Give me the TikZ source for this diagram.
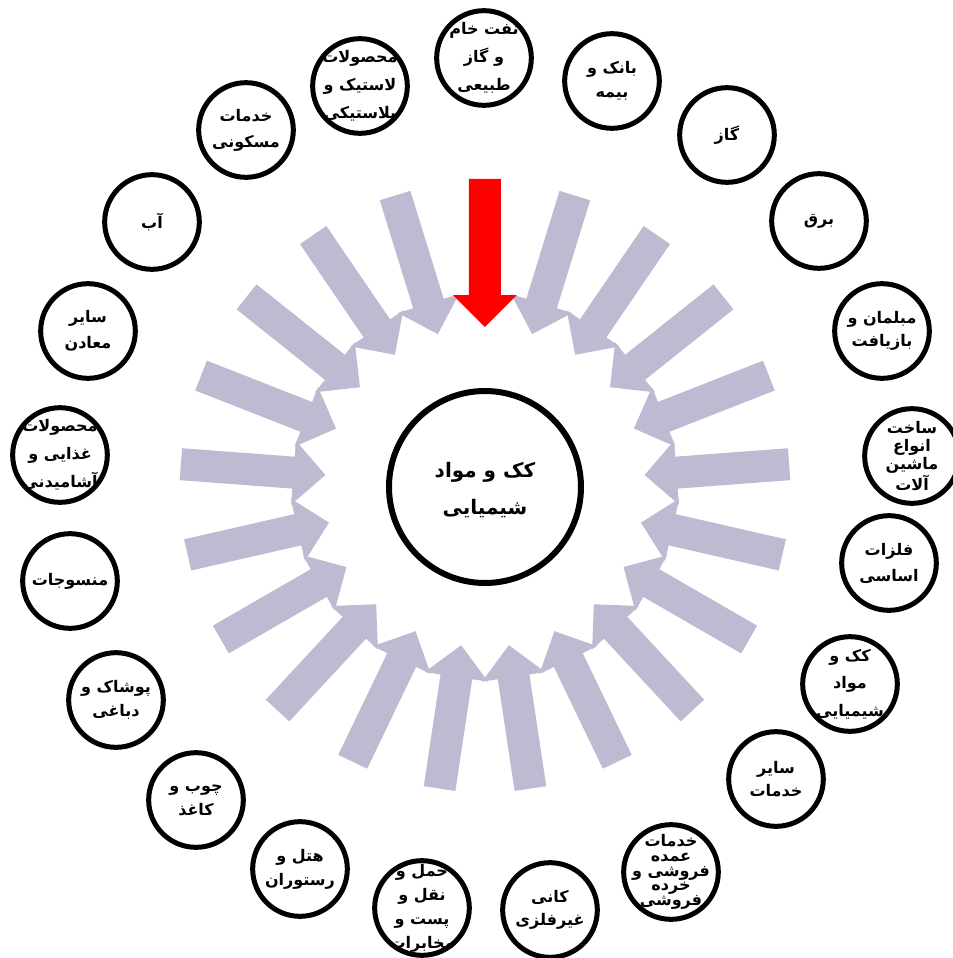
\documentclass[tikz,border=0pt]{standalone}
\usepackage{fontspec}
\newfontfamily\farsifont[Script=Arabic]{DejaVu Sans}
\TeXXeTstate=1
\definecolor{FlowLavender}{RGB}{191, 185, 209}
\definecolor{FocusRed}{RGB}{255, 0, 0}
\definecolor{RingBlack}{RGB}{0, 0, 0}
\newcommand{\fa}[1]{\beginR #1\endR}
\usetikzlibrary{positioning}

\begin{document}
\begin{tikzpicture}[x=0.75pt, y=0.75pt,
    inflow/.style={fill=FlowLavender},
    keyflow/.style={fill=FocusRed},
    sector/.style={circle, draw=RingBlack, line width=3.75pt, minimum size=71pt, inner sep=0pt},
    hub/.style={circle, draw=RingBlack, line width=4.5pt, minimum size=144pt, inner sep=0pt},
    sectortext/.style={text=RingBlack, align=center, inner sep=0pt, font=\farsifont\bfseries\fontsize{12}{19.5}\selectfont},
    hubtext/.style={text=RingBlack, align=center, inner sep=0pt, font=\farsifont\bfseries\fontsize{15}{28}\selectfont}
    ]
    \useasboundingbox (-485,-471) rectangle (468,487);

    %Arrows
    \fill[inflow, rotate=107.14] (305,16) -- (192,16) -- (192,32) -- (160,0) -- (192,-32) -- (192,-16) -- (305,-16) -- cycle;
    \fill[inflow, rotate=124.29] (305,16) -- (192,16) -- (192,32) -- (160,0) -- (192,-32) -- (192,-16) -- (305,-16) -- cycle;
    \fill[inflow, rotate=141.43] (305,16) -- (192,16) -- (192,32) -- (160,0) -- (192,-32) -- (192,-16) -- (305,-16) -- cycle;
    \fill[inflow, rotate=158.57] (305,16) -- (192,16) -- (192,32) -- (160,0) -- (192,-32) -- (192,-16) -- (305,-16) -- cycle;
    \fill[inflow, rotate=175.71] (305,16) -- (192,16) -- (192,32) -- (160,0) -- (192,-32) -- (192,-16) -- (305,-16) -- cycle;
    \fill[inflow, rotate=192.86] (305,16) -- (192,16) -- (192,32) -- (160,0) -- (192,-32) -- (192,-16) -- (305,-16) -- cycle;
    \fill[inflow, rotate=210.00] (305,16) -- (192,16) -- (192,32) -- (160,0) -- (192,-32) -- (192,-16) -- (305,-16) -- cycle;
    \fill[inflow, rotate=227.14] (305,16) -- (192,16) -- (192,32) -- (160,0) -- (192,-32) -- (192,-16) -- (305,-16) -- cycle;
    \fill[inflow, rotate=244.29] (305,16) -- (192,16) -- (192,32) -- (160,0) -- (192,-32) -- (192,-16) -- (305,-16) -- cycle;
    \fill[inflow, rotate=261.43] (305,16) -- (192,16) -- (192,32) -- (160,0) -- (192,-32) -- (192,-16) -- (305,-16) -- cycle;
    \fill[inflow, rotate=278.57] (305,16) -- (192,16) -- (192,32) -- (160,0) -- (192,-32) -- (192,-16) -- (305,-16) -- cycle;
    \fill[inflow, rotate=295.71] (305,16) -- (192,16) -- (192,32) -- (160,0) -- (192,-32) -- (192,-16) -- (305,-16) -- cycle;
    \fill[inflow, rotate=312.86] (305,16) -- (192,16) -- (192,32) -- (160,0) -- (192,-32) -- (192,-16) -- (305,-16) -- cycle;
    \fill[inflow, rotate=330.00] (305,16) -- (192,16) -- (192,32) -- (160,0) -- (192,-32) -- (192,-16) -- (305,-16) -- cycle;
    \fill[inflow, rotate=347.14] (305,16) -- (192,16) -- (192,32) -- (160,0) -- (192,-32) -- (192,-16) -- (305,-16) -- cycle;
    \fill[inflow, rotate=4.29] (305,16) -- (192,16) -- (192,32) -- (160,0) -- (192,-32) -- (192,-16) -- (305,-16) -- cycle;
    \fill[inflow, rotate=21.43] (305,16) -- (192,16) -- (192,32) -- (160,0) -- (192,-32) -- (192,-16) -- (305,-16) -- cycle;
    \fill[inflow, rotate=38.57] (305,16) -- (192,16) -- (192,32) -- (160,0) -- (192,-32) -- (192,-16) -- (305,-16) -- cycle;
    \fill[inflow, rotate=55.71] (305,16) -- (192,16) -- (192,32) -- (160,0) -- (192,-32) -- (192,-16) -- (305,-16) -- cycle;
    \fill[inflow, rotate=72.86] (305,16) -- (192,16) -- (192,32) -- (160,0) -- (192,-32) -- (192,-16) -- (305,-16) -- cycle;
    \fill[keyflow, rotate=90] (308,16) -- (192,16) -- (192,32) -- (160,0) -- (192,-32) -- (192,-16) -- (308,-16) -- cycle;

    %Hub
    \node[hub] (hub) at (0,0) {};
    \node[hubtext] (hub-t) at (0,-3) {\fa{کک و مواد}\\\fa{شیمیایی}};

    %Sectors
    \node[sector] (naft) at (-1,429) {};
    \node[sector] (bank) at (127,406) {};
    \node[sector] (gaz) at (242,352) {};
    \node[sector] (barq) at (334,266) {};
    \node[sector] (mobl) at (397,156) {};
    \node[sector] (sakht) at (427,31) {};
    \node[sector] (felezat) at (404,-76) {};
    \node[sector] (kok) at (365,-197) {};
    \node[sector] (khadamat) at (291,-292) {};
    \node[sector] (omde) at (186,-385) {};
    \node[sector] (kani) at (65,-423) {};
    \node[sector] (haml) at (-63,-421) {};
    \node[sector] (hotel) at (-185,-382) {};
    \node[sector] (choob) at (-289,-313) {};
    \node[sector] (pooshak) at (-369,-213) {};
    \node[sector] (nasaji) at (-415,-94) {};
    \node[sector] (ghaza) at (-425,32) {};
    \node[sector] (maaden) at (-397,156) {};
    \node[sector] (ab) at (-333,265) {};
    \node[sector] (maskan) at (-239,357) {};
    \node[sector] (lastik) at (-125,401) {};

    %Sector labels
    \node[sectortext, font=\farsifont\bfseries\fontsize{12}{21}\selectfont] (naft-t) at (naft) {\fa{نفت خام}\\\fa{و گاز}\\\fa{طبیعی}};
    \node[sectortext, font=\farsifont\bfseries\fontsize{12}{18}\selectfont] (bank-t) at (bank) {\fa{بانک و}\\\fa{بیمه}};
    \node[sectortext] (gaz-t) at (gaz) {\fa{گاز}};
    \node[sectortext] (barq-t) at (barq) {\fa{برق}};
    \node[sectortext, font=\farsifont\bfseries\fontsize{12}{17}\selectfont] (mobl-t) at (mobl) {\fa{مبلمان و}\\\fa{بازیافت}};
    \node[sectortext, font=\farsifont\bfseries\fontsize{12}{13.5}\selectfont] (sakht-t) at (sakht) {\fa{ساخت}\\\fa{انواع}\\\fa{ماشین}\\\fa{آلات}};
    \node[sectortext] (felezat-t) at (felezat) {\fa{فلزات}\\\fa{اساسی}};
    \node[sectortext, font=\farsifont\bfseries\fontsize{12}{20.5}\selectfont] (kok-t) at (kok) {\fa{کک و}\\\fa{مواد}\\\fa{شیمیایی}};
    \node[sectortext, font=\farsifont\bfseries\fontsize{12}{17}\selectfont] (khadamat-t) at (khadamat) {\fa{سایر}\\\fa{خدمات}};
    \node[sectortext, font=\farsifont\bfseries\fontsize{12}{11}\selectfont] (omde-t) at (omde) {\fa{خدمات}\\\fa{عمده}\\\fa{فروشی و}\\\fa{خرده}\\\fa{فروشی}};
    \node[sectortext, font=\farsifont\bfseries\fontsize{12}{17}\selectfont] (kani-t) at (kani) {\fa{کانی}\\\fa{غیرفلزی}};
    \node[sectortext, font=\farsifont\bfseries\fontsize{12}{18}\selectfont] (haml-t) at (haml) {\fa{حمل و}\\\fa{نقل و}\\\fa{پست و}\\\fa{مخابرات}};
    \node[sectortext, font=\farsifont\bfseries\fontsize{12}{18}\selectfont] (hotel-t) at (hotel) {\fa{هتل و}\\\fa{رستوران}};
    \node[sectortext, font=\farsifont\bfseries\fontsize{12}{18}\selectfont] (choob-t) at (choob) {\fa{چوب و}\\\fa{کاغذ}};
    \node[sectortext, font=\farsifont\bfseries\fontsize{12}{18}\selectfont] (pooshak-t) at (pooshak) {\fa{پوشاک و}\\\fa{دباغی}};
    \node[sectortext] (nasaji-t) at (nasaji) {\fa{منسوجات}};
    \node[sectortext, font=\farsifont\bfseries\fontsize{12}{21}\selectfont] (ghaza-t) at (ghaza) {\fa{محصولات}\\\fa{غذایی و}\\\fa{آشامیدنی}};
    \node[sectortext] (maaden-t) at (maaden) {\fa{سایر}\\\fa{معادن}};
    \node[sectortext] (ab-t) at (ab) {\fa{آب}};
    \node[sectortext] (maskan-t) at (maskan) {\fa{خدمات}\\\fa{مسکونی}};
    \node[sectortext, font=\farsifont\bfseries\fontsize{12}{21}\selectfont] (lastik-t) at (lastik) {\fa{محصولات}\\\fa{لاستیک و}\\\fa{پلاستیکی}};

\end{tikzpicture}
\end{document}
